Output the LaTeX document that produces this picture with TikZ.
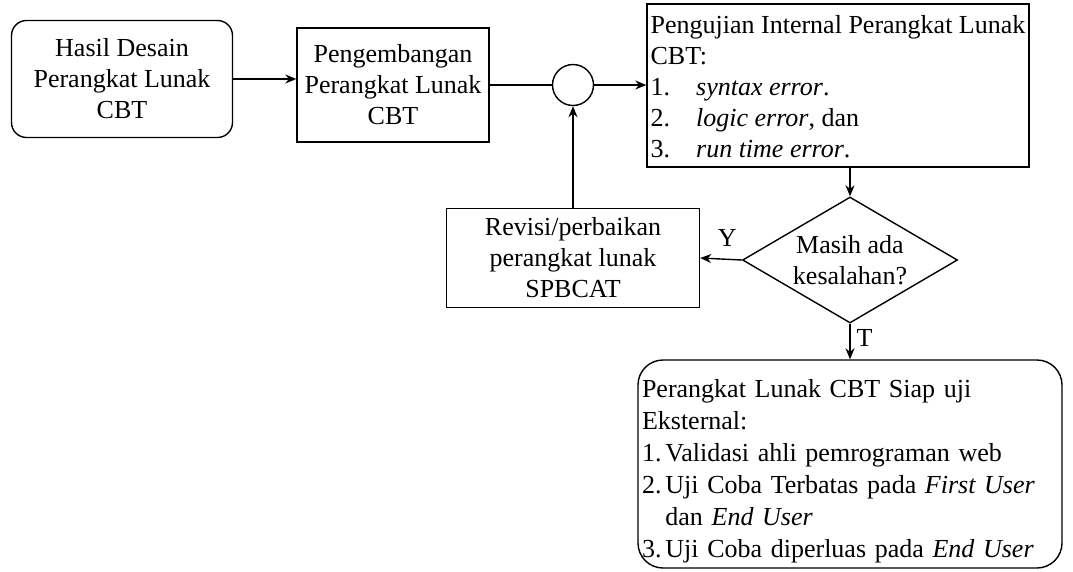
\documentclass[tikz,border=0pt]{standalone}
\usepackage{fontspec}
\setmainfont{Liberation Serif}
\usetikzlibrary{arrows.meta, positioning, shapes.geometric, calc}
\tikzset{
  every picture/.style={line width=1.4pt},
  box/.style={draw, align=center, inner sep=0pt, font=\fontsize{26}{31}\selectfont},
  arrow/.style={-{Stealth[length=11pt, width=9pt]}},
  lbl/.style={font=\fontsize{26}{31}\selectfont, inner sep=2pt},
}
\newcommand{\itm}[2]{\makebox[#1][l]{#2}}

\begin{document}
\begin{tikzpicture}[x=1pt, y=-1pt]
  \useasboundingbox (0,0) rectangle (1073,571);

  % top row
  \node[box, rounded corners=15pt, minimum width=221pt, minimum height=117pt] (hasil) at (122,79) {Hasil Desain\\Perangkat Lunak\\CBT};
  \node[box, minimum width=192pt, minimum height=114pt] (kembang) at (393,85) {Pengembangan\\Perangkat Lunak\\CBT};
  \node[draw, circle, minimum size=41pt, inner sep=0pt] (sambung) at (573,85) {};
  \node[box, align=left, minimum width=382pt, minimum height=163pt] (uji) at (838,85.5) {\rule{0pt}{21pt}Pengujian Internal Perangkat Lunak\\CBT:\\\itm{1.75em}{1.}\textit{syntax error}.\\\itm{1.75em}{2.}\textit{logic error}, dan\\\itm{1.75em}{3.}\textit{run time error}.};
  \draw[arrow] (hasil.east) -- (hasil.east -| kembang.west);
  \draw (kembang.east) -- (sambung.west);
  \draw[arrow] (sambung.east) -- (sambung.east -| uji.west);

  % check
  \node[box, diamond, aspect=1.7, minimum width=215pt, minimum height=126pt] (cek) at (850,260) {Masih ada\\kesalahan?};
  \node[box, minimum width=253pt, minimum height=99pt] (revisi) at (573,258) {Revisi/perbaikan\\perangkat lunak\\SPBCAT};
  \draw[arrow] (uji.south -| cek.north) -- (cek.north);
  \draw[arrow] (cek.west) -- node[lbl, above=10pt, pos=0.35] {Y} (revisi.east);
  \draw[arrow] (revisi) -- (sambung);

  % ready for external test
  \node[box, rounded corners=25pt, align=left, text width=416pt, minimum height=208pt, inner xsep=4pt, font=\fontsize{26}{32}\selectfont] (siap) at (850,464) {\rule{0pt}{32pt}Perangkat Lunak CBT Siap uji\\Eksternal:\\\itm{0.9em}{1.}Validasi ahli pemrograman web\\\itm{0.9em}{2.}Uji Coba Terbatas pada \textit{First User}\\\hspace*{0.9em}dan \textit{End User}\\\itm{0.9em}{3.}Uji Coba diperluas pada \textit{End User}};
  \draw[arrow] (cek.south) -- node[lbl, right=4pt, pos=0.4] {T} (siap.north);
\end{tikzpicture}
\end{document}
